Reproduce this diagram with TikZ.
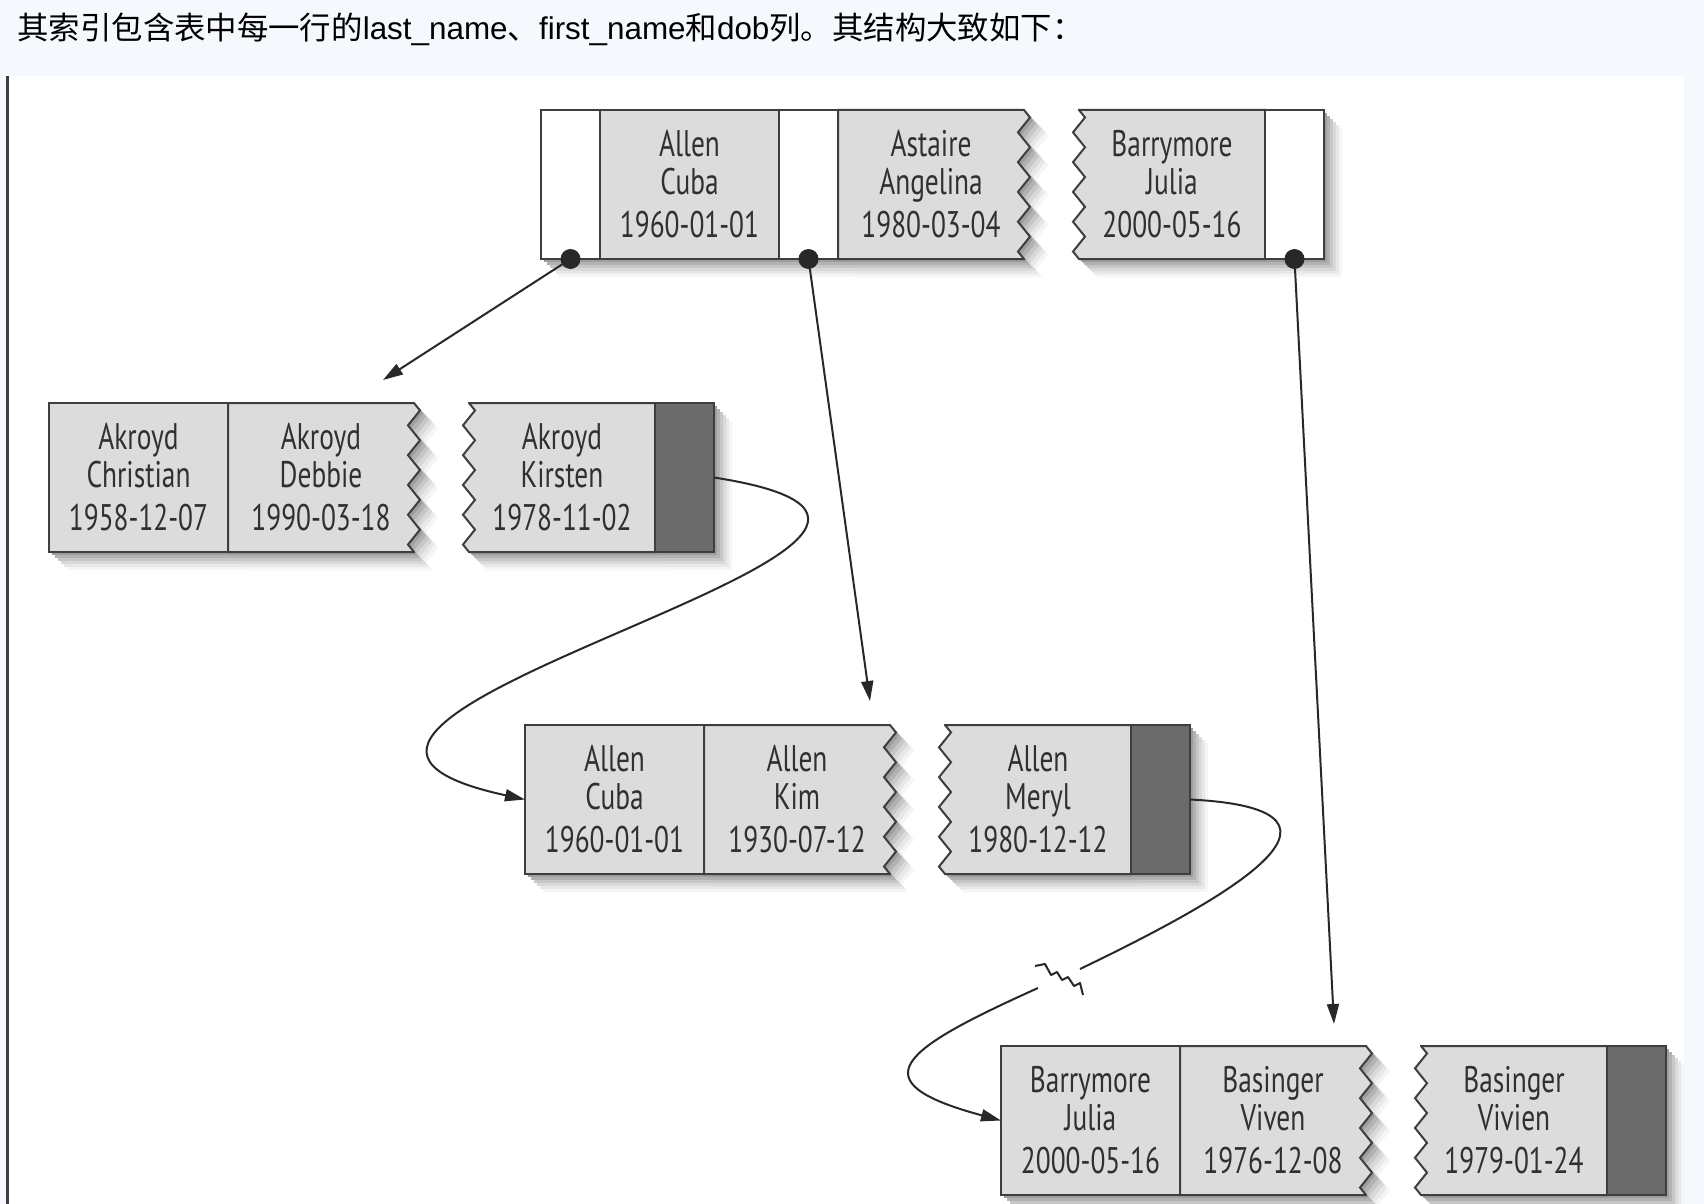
\documentclass[tikz,border=0pt]{standalone}
\usepackage{fontspec}
\usepackage{xcolor}
\usepackage{tikz}
\usetikzlibrary{arrows.meta, positioning, backgrounds, calc, decorations.pathmorphing}

\newfontfamily\cjk{Noto Sans CJK SC}
\newfontfamily\headfont{Liberation Sans}
\newfontfamily\cellfont[FakeStretch=0.74]{PT Sans}

\definecolor{pagebg}{RGB}{245,248,252}
\definecolor{cellgray}{RGB}{220,220,220}
\definecolor{nextgray}{RGB}{107,107,107}
\definecolor{edgegray}{RGB}{62,62,62}
\definecolor{inkgray}{RGB}{40,40,40}
\definecolor{textgray}{RGB}{48,48,52}

\tikzstyle{cell} = [rectangle, minimum width=89.5pt, minimum height=74.5pt, inner sep=0pt, outer sep=0pt, align=center, text=textgray, font=\cellfont\fontsize{18.5}{19}\selectfont]
\tikzstyle{zcell} = [cell, minimum width=93pt]
\tikzstyle{ptr} = [cell, minimum width=29.5pt]
\tikzstyle{paper} = [draw=edgegray, line width=1pt, fill=cellgray,
  preaction={fill=black!4, draw=none, transform canvas={shift={(9pt,-9pt)}}},
  preaction={fill=black!9, draw=none, transform canvas={shift={(7.5pt,-7.5pt)}}},
  preaction={fill=black!15, draw=none, transform canvas={shift={(6pt,-6pt)}}},
  preaction={fill=black!22, draw=none, transform canvas={shift={(4.5pt,-4.5pt)}}},
  preaction={fill=black!30, draw=none, transform canvas={shift={(3pt,-3pt)}}},
  preaction={fill=black!38, draw=none, transform canvas={shift={(1.5pt,-1.5pt)}}}]
\tikzstyle{zig} = [paper, decoration={zigzag, segment length=14.9pt, amplitude=3pt}]
\tikzstyle{dot} = [circle, fill=inkgray, minimum size=10pt, inner sep=0pt]
\tikzstyle{arr} = [-{Triangle[length=10pt, width=6pt]}, line width=1pt, draw=inkgray]
\tikzstyle{wire} = [line width=1pt, draw=inkgray]

\begin{document}
\begin{tikzpicture}[x=0.5pt, y=-0.5pt]
  \useasboundingbox (0,0) rectangle (1704,1204);
  % Caption line
  \node[anchor=west, inner sep=0pt, font=\headfont\fontsize{15.7}{18}\selectfont] (caption) at (17,29)
    {{\cjk 其索引包含表中每一行的}last\_name{\cjk 、}first\_name{\cjk 和}dob{\cjk 列。其结构大致如下：}};
  % Row 1 (root page)
  \node[ptr] (rp1) at (570.5,184.5) {};
  \node[cell, right=0pt of rp1] (rcuba) {Allen\\Cuba\\[2.5pt]1960-01-01};
  \node[ptr, right=0pt of rcuba] (rp2) {};
  \node[zcell, right=0pt of rp2] (rastaire) {Astaire\\Angelina\\[2.5pt]1980-03-04};
  \node[zcell, right=27.5pt of rastaire] (rbarry) {Barrymore\\Julia\\[2.5pt]2000-05-16};
  \node[ptr, right=0pt of rbarry] (rp3) {};
  % Row 2 (leaf page: Akroyd)
  \node[cell] (christian) at (138.5,477.5) {Akroyd\\Christian\\[2.5pt]1958-12-07};
  \node[zcell, right=0pt of christian] (debbie) {Akroyd\\Debbie\\[2.5pt]1990-03-18};
  \node[zcell, right=27.5pt of debbie] (kirsten) {Akroyd\\Kirsten\\[2.5pt]1978-11-02};
  \node[ptr, right=0pt of kirsten] (knext) {};
  % Row 3 (leaf page: Allen)
  \node[cell] (cuba) at (614.5,799.5) {Allen\\Cuba\\[2.5pt]1960-01-01};
  \node[zcell, right=0pt of cuba] (kim) {Allen\\Kim\\[2.5pt]1930-07-12};
  \node[zcell, right=27.5pt of kim] (meryl) {Allen\\Meryl\\[2.5pt]1980-12-12};
  \node[ptr, right=0pt of meryl] (mnext) {};
  % Row 4 (leaf page: Barrymore)
  \node[cell] (julia) at (1090.5,1120.5) {Barrymore\\Julia\\[2.5pt]2000-05-16};
  \node[zcell, right=0pt of julia] (viven) {Basinger\\Viven\\[2.5pt]1976-12-08};
  \node[zcell, right=27.5pt of viven] (vivien) {Basinger\\Vivien\\[2.5pt]1979-01-24};
  \node[ptr, right=0pt of vivien] (vnext) {};

  \begin{scope}[on background layer]
    \fill[pagebg] (0,0) rectangle (1704,1204);
    \fill[white] (8,76) rectangle (1684,1204);
    \draw[edgegray, line width=1.5pt] (7.5,76) -- (7.5,1204);
    % root page
    \draw[paper, fill=white] (rp1.north west) rectangle (rp1.south east);
    \draw[paper] (rcuba.north west) rectangle (rcuba.south east);
    \draw[paper, fill=white] (rp2.north west) rectangle (rp2.south east);
    \draw[zig] decorate{(rastaire.north east) -- (rastaire.south east)} -- (rastaire.south west) -- (rastaire.north west) -- cycle;
    \draw[zig] decorate{(rbarry.south west) -- (rbarry.north west)} -- (rbarry.north east) -- (rbarry.south east) -- cycle;
    \draw[paper, fill=white] (rp3.north west) rectangle (rp3.south east);
    % leaf pages
    \draw[paper] (christian.north west) rectangle (christian.south east);
    \draw[zig] decorate{(debbie.north east) -- (debbie.south east)} -- (debbie.south west) -- (debbie.north west) -- cycle;
    \draw[zig] decorate{(kirsten.south west) -- (kirsten.north west)} -- (kirsten.north east) -- (kirsten.south east) -- cycle;
    \draw[paper, fill=nextgray] (knext.north west) rectangle (knext.south east);
    \draw[paper] (cuba.north west) rectangle (cuba.south east);
    \draw[zig] decorate{(kim.north east) -- (kim.south east)} -- (kim.south west) -- (kim.north west) -- cycle;
    \draw[zig] decorate{(meryl.south west) -- (meryl.north west)} -- (meryl.north east) -- (meryl.south east) -- cycle;
    \draw[paper, fill=nextgray] (mnext.north west) rectangle (mnext.south east);
    \draw[paper] (julia.north west) rectangle (julia.south east);
    \draw[zig] decorate{(viven.north east) -- (viven.south east)} -- (viven.south west) -- (viven.north west) -- cycle;
    \draw[zig] decorate{(vivien.south west) -- (vivien.north west)} -- (vivien.north east) -- (vivien.south east) -- cycle;
    \draw[paper, fill=nextgray] (vnext.north west) rectangle (vnext.south east);
  \end{scope}

  % pointers of the root page
  \node[dot] (d1) at (rp1.south) {};
  \node[dot] (d2) at (rp2.south) {};
  \node[dot] (d3) at (rp3.south) {};
  \coordinate (toakroyd) at (383,380);
  \coordinate (toallen) at (870,701);
  \coordinate (tobarry) at (1334,1024);
  \draw[arr] (d1.center) -- (toakroyd);
  \draw[arr] (d2.center) -- (toallen);
  \draw[arr] (d3.center) -- (tobarry);
  % next-page links between leaves
  \draw[arr] (knext.east) .. controls +(385,60) and +(-369,-80) .. (cuba.west);
  \coordinate (brk) at (1059,978);
  \coordinate (brka) at ($(brk)+(21,-9)$);
  \coordinate (brkb) at ($(brk)+(-21,10)$);
  \draw[wire] (mnext.east) .. controls +(200,10) and +(135,-65) .. (brka);
  \draw[arr] (brkb) .. controls +(-136.5,61.5) and +(-145,-39) .. (julia.west);
  \draw[wire, line join=round] ($(brk)+(-24,-12)$) -- ++(10,-2) -- ++(6,11) -- ++(6,-3) -- ++(5,8) -- ++(6,-3) -- ++(6,9) -- ++(6,-3) -- ++(3,12);
\end{tikzpicture}
\end{document}
